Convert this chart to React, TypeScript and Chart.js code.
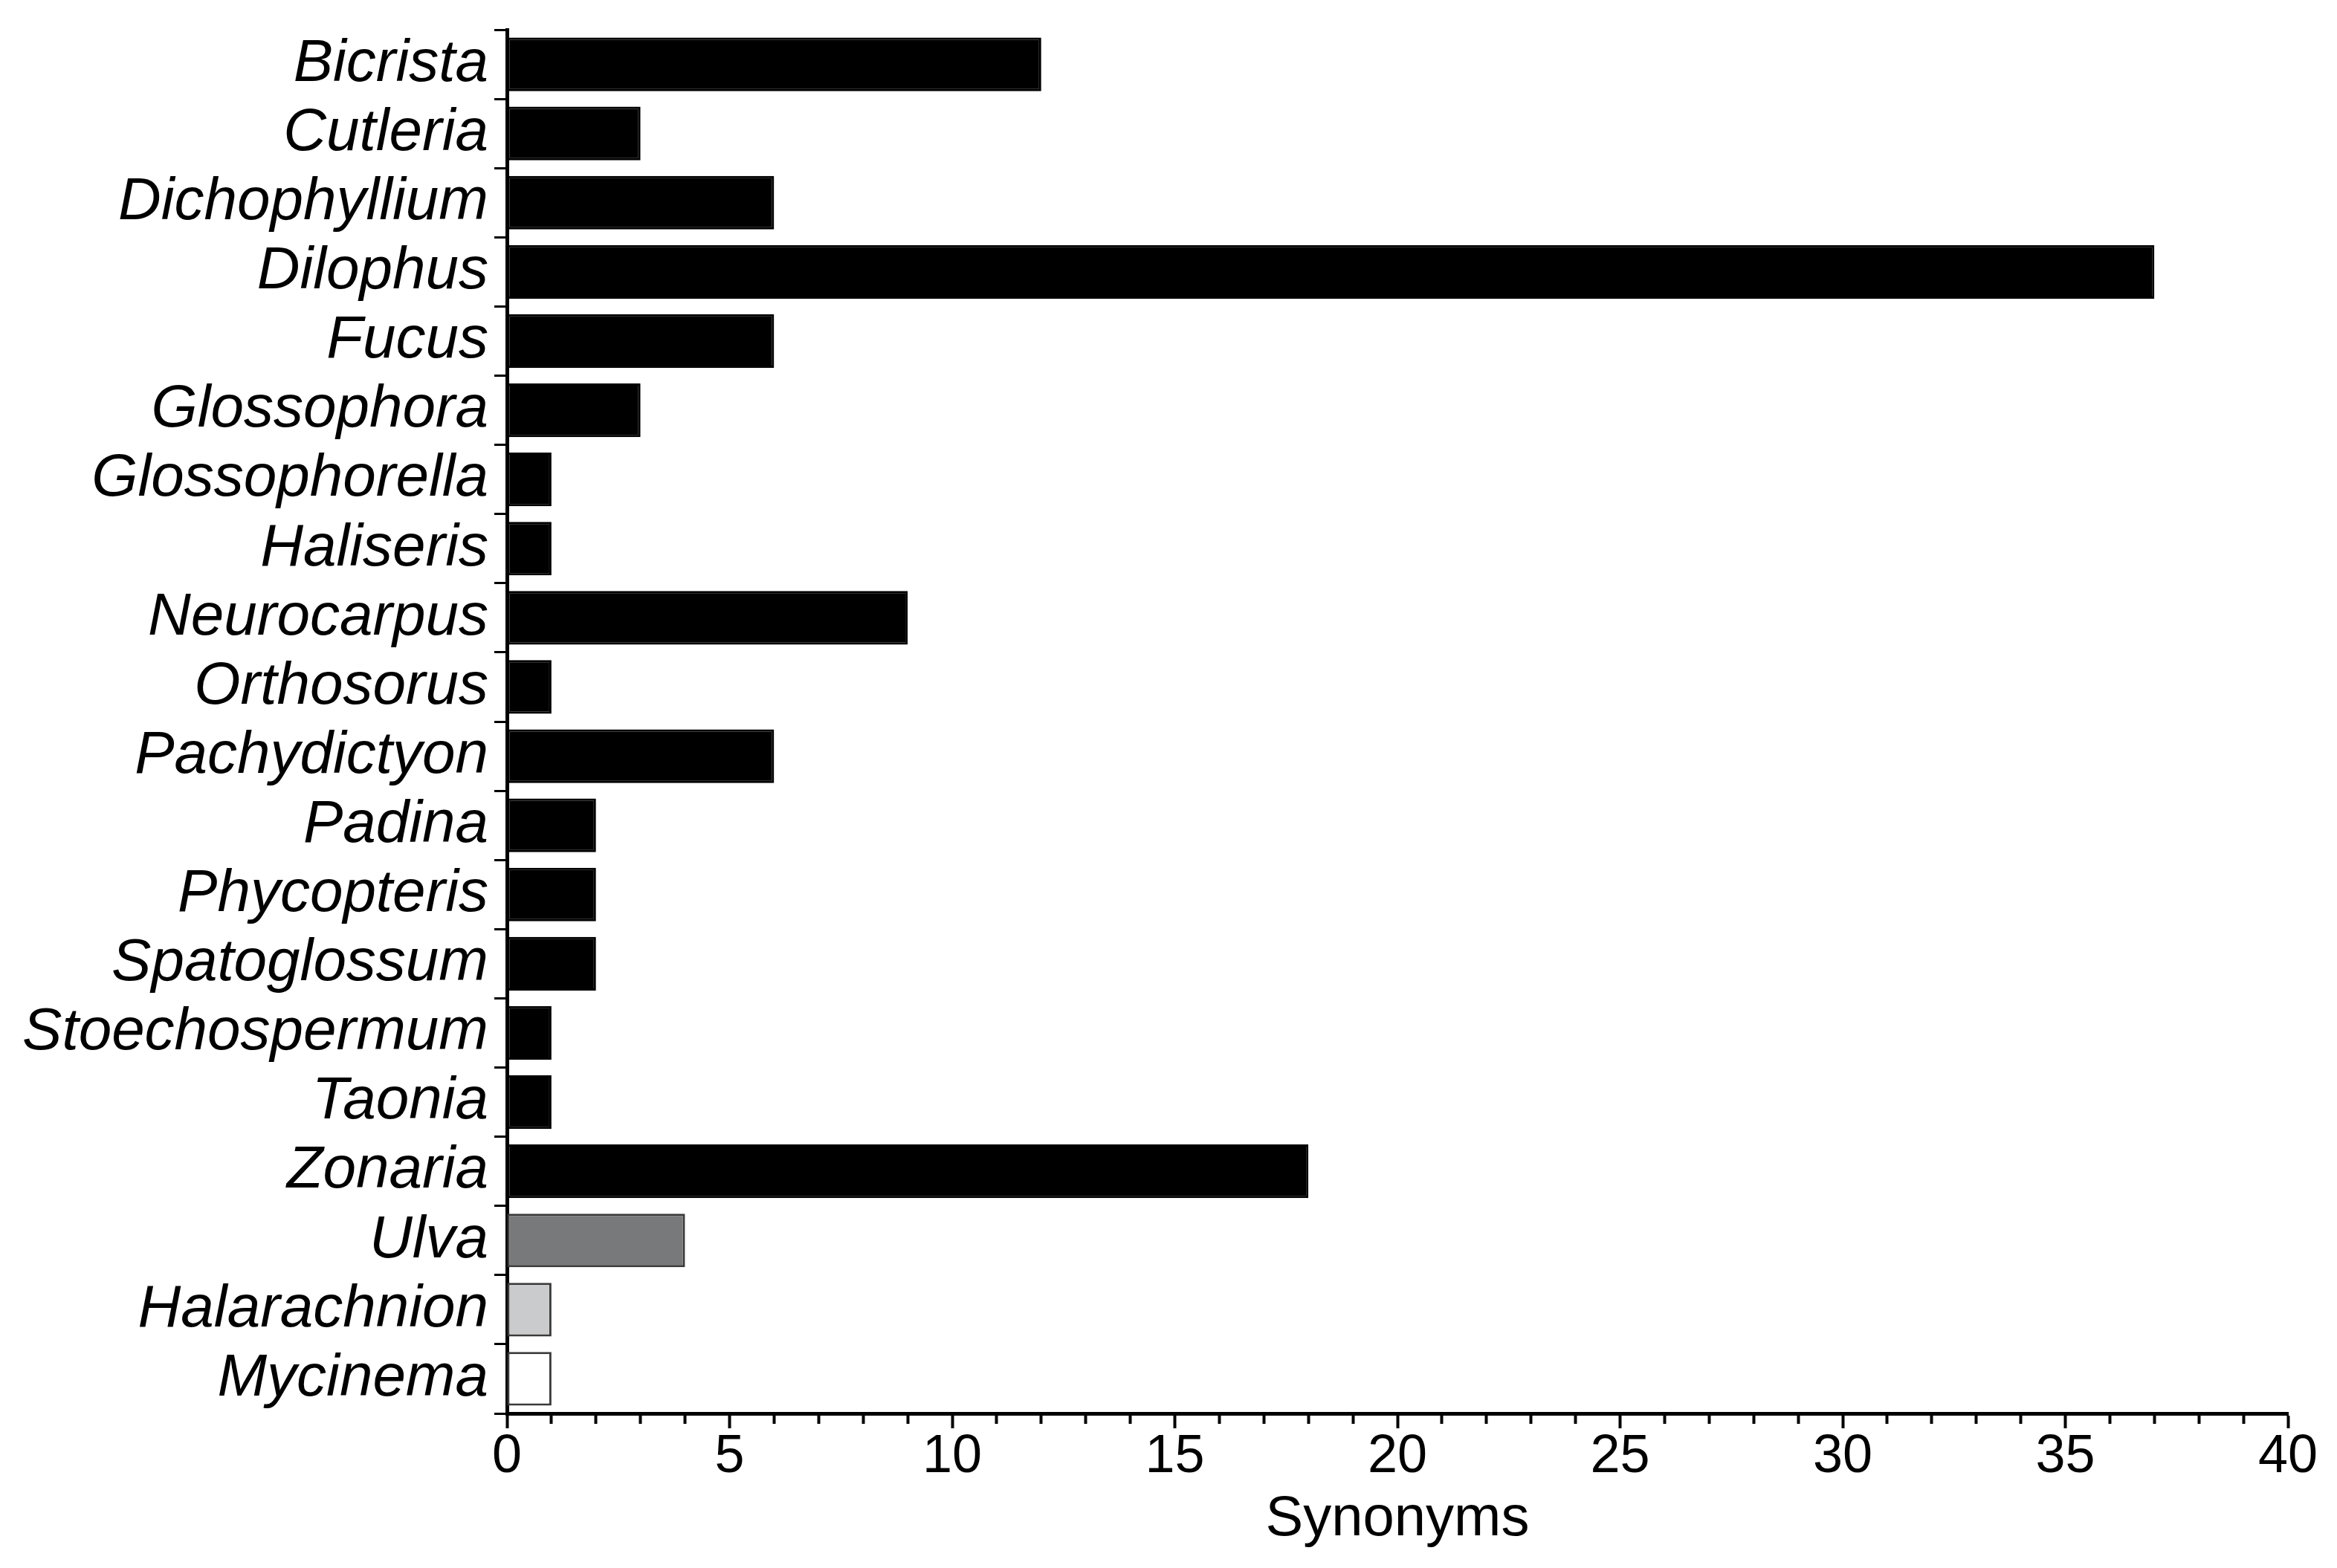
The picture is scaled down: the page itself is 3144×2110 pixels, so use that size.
import React, { useEffect, useRef } from "react";
import { Chart, registerables } from "chart.js";

Chart.register(...registerables);

const genera = [
  "Bicrista",
  "Cutleria",
  "Dichophyllium",
  "Dilophus",
  "Fucus",
  "Glossophora",
  "Glossophorella",
  "Haliseris",
  "Neurocarpus",
  "Orthosorus",
  "Pachydictyon",
  "Padina",
  "Phycopteris",
  "Spatoglossum",
  "Stoechospermum",
  "Taonia",
  "Zonaria",
  "Ulva",
  "Halarachnion",
  "Mycinema",
];

const synonyms = [12, 3, 6, 37, 6, 3, 1, 1, 9, 1, 6, 2, 2, 2, 1, 1, 18, 4, 1, 1];

const xMin = 0;
const xMax = 40;
const xStep = 1;
const xLabelEvery = 5;
const xTitle = "Synonyms";

// fill style per bar (black, dark grey, light grey, white)
const barFill = [
  "#000000", "#000000", "#000000", "#000000", "#000000",
  "#000000", "#000000", "#000000", "#000000", "#000000",
  "#000000", "#000000", "#000000", "#000000", "#000000",
  "#000000", "#000000", "#77797b", "#c9cbcd", "#ffffff",
];
const barEdge = [
  "#000000", "#000000", "#000000", "#000000", "#000000",
  "#000000", "#000000", "#000000", "#000000", "#000000",
  "#000000", "#000000", "#000000", "#000000", "#000000",
  "#000000", "#000000", "#3a3a3a", "#3a3a3a", "#3a3a3a",
];

const FONT = "'Liberation Sans', Arial, Helvetica, sans-serif";

export default function App() {
  const ref = useRef<HTMLCanvasElement | null>(null);

  useEffect(() => {
    if (!ref.current) return;
    const chart = new Chart(ref.current, {
      type: "bar",
      data: {
        labels: genera,
        datasets: [
          {
            data: synonyms,
            backgroundColor: barFill,
            borderColor: barEdge,
            borderWidth: 3,
            borderSkipped: false,
            categoryPercentage: 1,
            barPercentage: 0.775,
          },
        ],
      },
      options: {
        indexAxis: "y",
        animation: false,
        responsive: false,
        devicePixelRatio: 1,
        layout: { padding: { top: 40, right: 66, bottom: 0, left: 0 } },
        plugins: {
          legend: { display: false },
          tooltip: { enabled: false },
        },
        scales: {
          y: {
            type: "category",
            position: "left",
            afterFit: (s: any) => {
              s.width = 682;
              s.paddingTop = 0;
              s.paddingBottom = 0;
            },
            border: { display: true, color: "#000", width: 5 },
            grid: {
              offset: true,
              drawOnChartArea: false,
              drawTicks: true,
              tickLength: 17,
              tickWidth: 3,
              tickColor: "#000",
              color: "#000",
            },
            ticks: {
              autoSkip: false,
              color: "#000",
              padding: 8,
              font: { family: FONT, size: 80, style: "italic" },
            },
          },
          x: {
            type: "linear",
            position: "bottom",
            min: xMin,
            max: xMax,
            afterFit: (s: any) => {
              s.height = 208;
            },
            border: { display: true, color: "#000", width: 5 },
            grid: {
              drawOnChartArea: false,
              drawTicks: true,
              tickLength: 20,
              tickWidth: 4,
              tickColor: "#000",
              color: "#000",
              tickBorderDash: (ctx: any) =>
                ctx.tick && ctx.tick.value % xLabelEvery === 0 ? [] : [11, 60],
            } as any,
            ticks: {
              stepSize: xStep,
              autoSkip: false,
              maxRotation: 0,
              minRotation: 0,
              padding: 3,
              color: "#000",
              font: { family: FONT, size: 72, lineHeight: 1 },
              callback: (v: any) => (Number(v) % xLabelEvery === 0 ? String(v) : ""),
            },
            title: {
              display: true,
              text: xTitle,
              color: "#000",
              font: { family: FONT, size: 76, lineHeight: 1 },
              padding: { top: 10, bottom: 27 },
            },
          },
        },
      },
    });
    return () => chart.destroy();
  }, []);

  return (
    <div style={{ position: "fixed", left: 0, top: 0, width: 3144, height: 2110, background: "#fff" }}>
      <canvas ref={ref} width={3144} height={2110} style={{ width: 3144, height: 2110, display: "block" }} />
    </div>
  );
}
